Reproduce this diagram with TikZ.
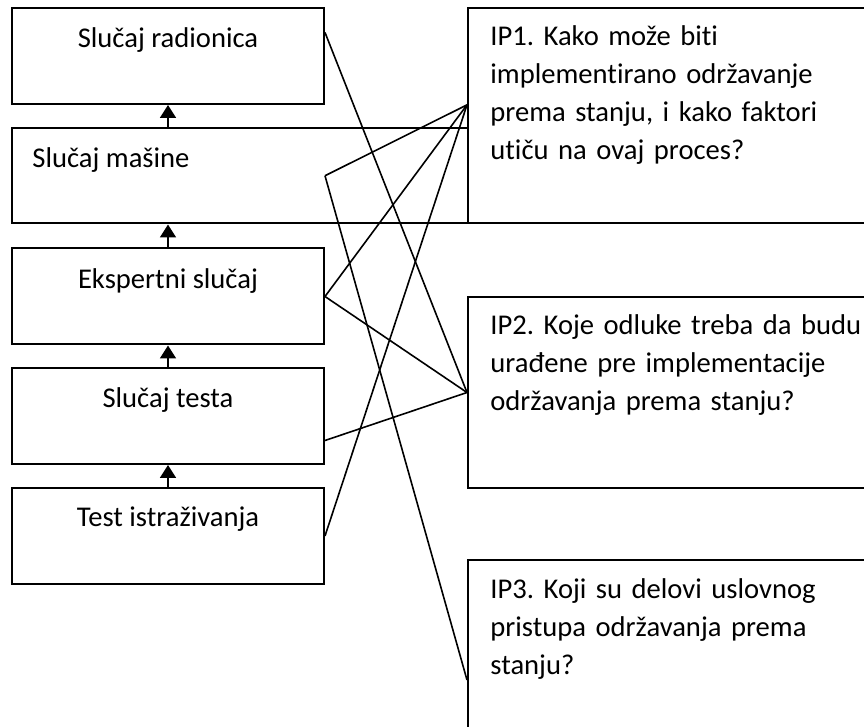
\documentclass[tikz,border=0pt]{standalone}
\usepackage{fontspec}
\setmainfont{Carlito}[Ligatures=NoCommon]
\frenchspacing
\usetikzlibrary{arrows.meta,calc}

\tikzset{
  stage/.style={draw, line width=1pt, minimum width=156pt, minimum height=48pt, inner sep=0pt},
  question/.style={draw, fill=white, line width=1pt, minimum width=216pt, inner sep=0pt},
  lbl/.style={font=\fontsize{14.3}{19}\selectfont, inner sep=0pt},
  qlbl/.style={lbl, text width=205pt, align=left},
  flow/.style={line width=0.9pt, -{Triangle[width=8pt,length=6.5pt]}},
  link/.style={line width=0.8pt},
}

\begin{document}
\begin{tikzpicture}[x=0.5pt,y=-0.5pt]
  \useasboundingbox (0,0) rectangle (864,727);
  \clip (0,0) rectangle (864,727);

  % left column
  \node[stage] (r1) at (168,56) {};
  \node[stage, minimum width=444pt, minimum height=47.75pt] (r2) at (456,175.75) {};
  \node[stage] (r3) at (168,296.5) {};
  \node[stage] (r4) at (168,416) {};
  \node[stage] (r5) at (168,536) {};

  \node[lbl, anchor=base] (t1) at (168,48) {Slučaj radionica};
  \node[lbl, anchor=base west] (t2) at (32,168) {Slučaj mašine};
  \node[lbl, anchor=base] (t3) at (168,289) {Ekspertni slučaj};
  \node[lbl, anchor=base] (t4) at (168,408) {Slučaj testa};
  \node[lbl, anchor=base] (t5) at (168,527) {Test istraživanja};

  \draw[flow] (r2.north -| r1.south) -- (r1.south);
  \draw[flow] (r3.north) -- (r3.north |- r2.south);
  \draw[flow] (r4.north) -- (r3.south);
  \draw[flow] (r5.north) -- (r4.south);

  % right column
  \node[question, minimum height=107.75pt] (ip1) at (684,115.75) {};
  \node[question, minimum height=95.5pt] (ip2) at (684,392.5) {};
  \node[question, minimum height=120pt] (ip3) at (684,680) {};

  \node[qlbl, anchor=base west] (s1) at (490,46)
    {IP1. Kako može biti\\ implementirano održavanje\\ prema stanju, i kako faktori\\ utiču na ovaj proces?};
  \node[qlbl, anchor=base west] (s2) at (490,335)
    {IP2. Koje odluke treba da budu\\ urađene pre implementacije\\ održavanja prema stanju?};
  \node[qlbl, anchor=base west] (s3) at (490,599)
    {IP3. Koji su delovi uslovnog\\ pristupa održavanja prema\\ stanju?};

  % links
  \coordinate (c1) at ($(r1.north east)!0.26!(r1.south east)$);
  \coordinate (c2) at (r1.east |- r2.east);
  \coordinate (c4) at ($(r4.north east)!0.75!(r4.south east)$);
  \coordinate (q1) at ($(ip1.north west)!0.45!(ip1.south west)$);
  \foreach \a/\b in {c1/ip2.west, c2/q1, c2/ip3.west, r3.east/q1, r3.east/ip2.west, c4/ip2.west, r5.east/q1}
    \draw[link] (\a) -- (\b);
\end{tikzpicture}
\end{document}
